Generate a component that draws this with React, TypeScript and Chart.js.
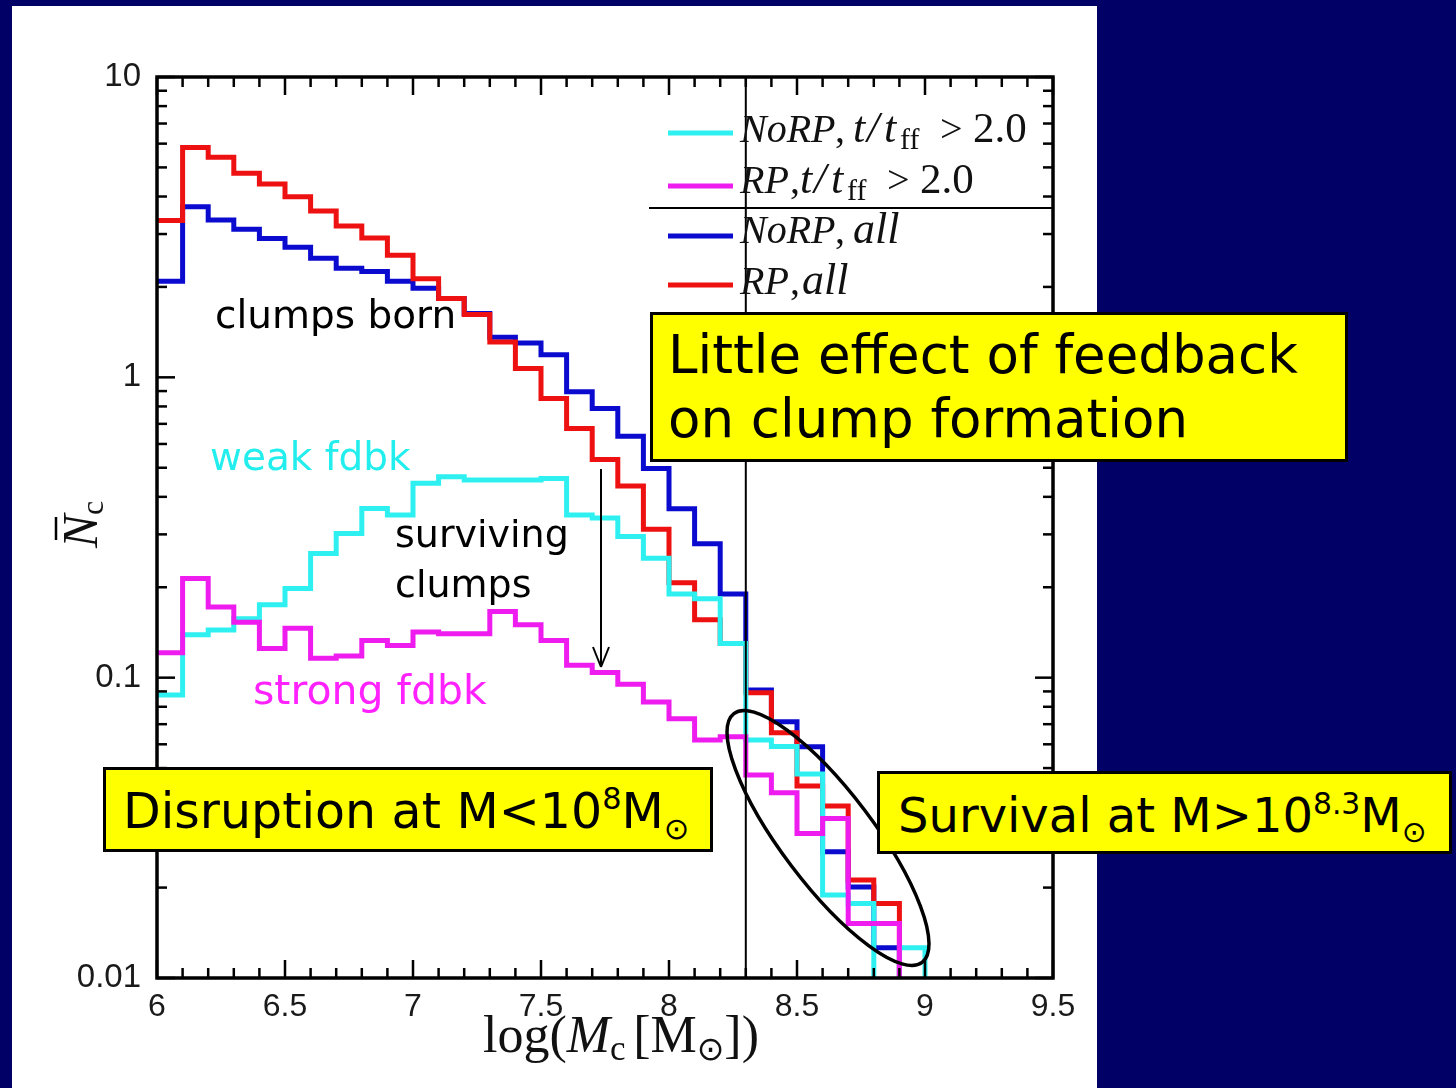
import React, { useEffect, useRef } from 'react';
import { Chart, registerables } from 'chart.js';

Chart.register(...registerables);

// ---------- data ----------
const binStarts = [6.0, 6.1, 6.2, 6.3, 6.4, 6.5, 6.6, 6.7, 6.8, 6.9, 7.0, 7.1, 7.2, 7.3, 7.4, 7.5, 7.6, 7.7, 7.8, 7.9, 8.0, 8.1, 8.2, 8.3, 8.4, 8.5, 8.6, 8.7, 8.8, 8.9, 9.0];

const noRPLate = [0.0875, 0.139, 0.144, 0.157, 0.175, 0.198, 0.259, 0.302, 0.366, 0.348, 0.444, 0.467, 0.455, 0.455, 0.455, 0.46, 0.348, 0.34, 0.295, 0.25, 0.19, 0.183, 0.13, 0.062, 0.059, 0.0478, 0.0189, 0.0177, 0, 0.0126, 0];
const rpLate = [0.121, 0.214, 0.172, 0.153, 0.125, 0.146, 0.116, 0.118, 0.133, 0.128, 0.142, 0.14, 0.14, 0.166, 0.15, 0.133, 0.11, 0.104, 0.095, 0.083, 0.073, 0.062, 0.0636, 0.0474, 0.0414, 0.0303, 0.034, 0.0152, 0.0152, 0, 0];
const noRPAll = [2.09, 3.7, 3.34, 3.11, 2.9, 2.71, 2.49, 2.31, 2.25, 2.09, 1.98, 1.83, 1.63, 1.36, 1.3, 1.19, 0.895, 0.788, 0.637, 0.497, 0.365, 0.279, 0.19, 0.091, 0.0713, 0.0589, 0.0263, 0.0201, 0.0126, 0, 0];
const rpAll = [3.33, 5.83, 5.4, 4.78, 4.4, 3.99, 3.58, 3.19, 2.91, 2.55, 2.13, 1.83, 1.62, 1.31, 1.07, 0.85, 0.676, 0.533, 0.435, 0.312, 0.207, 0.156, 0.13, 0.089, 0.0656, 0.0436, 0.0374, 0.0212, 0.0177, 0, 0];

const xTickLabels = ['6', '6.5', '7', '7.5', '8', '8.5', '9', '9.5'];
const yTickLabels = ['0.01', '0.1', '1', '10'];
const thresholdMass = 8.3;

const seriesNames = ['NoRP, t/tff > 2.0', 'RP, t/tff > 2.0', 'NoRP, all', 'RP, all'];
const seriesColors = ['#2ef0f0', '#ee1cee', '#0b0bd0', '#ee1111'];

const CANVAS_LEFT = 12;
const CANVAS_TOP = 6;
const EMPTY_BIN_FLOOR = 0.0005; // empty bins are drawn below the axis floor (log scale cannot show 0)

type Part = [string, number, string, number];

const legendRows: Part[][] = [
  [['NoRP', 0, 'italic 40px "Liberation Serif"', 0], [',', 95, '40px "Liberation Serif"', 0], ['t', 113, 'italic 44px "Liberation Serif"', 0], ['/', 127, 'italic 44px "Liberation Serif"', 0], ['t', 144, 'italic 44px "Liberation Serif"', 0], ['ff', 160, '30px "Liberation Serif"', 7], ['>', 200, '40px "Liberation Serif"', 0], ['2.0', 233, '43px "Liberation Serif"', 0]],
  [['RP', 0, 'italic 40px "Liberation Serif"', 0], [',', 50, '40px "Liberation Serif"', 0], ['t', 60, 'italic 44px "Liberation Serif"', 0], ['/', 74, 'italic 44px "Liberation Serif"', 0], ['t', 91, 'italic 44px "Liberation Serif"', 0], ['ff', 107, '30px "Liberation Serif"', 7], ['>', 147, '40px "Liberation Serif"', 0], ['2.0', 180, '43px "Liberation Serif"', 0]],
  [['NoRP', 0, 'italic 40px "Liberation Serif"', 0], [',', 95, '40px "Liberation Serif"', 0], ['all', 113, 'italic 44px "Liberation Serif"', 0]],
  [['RP', 0, 'italic 40px "Liberation Serif"', 0], [',', 50, '40px "Liberation Serif"', 0], ['all', 62, 'italic 44px "Liberation Serif"', 0]],
];

function line(ctx: CanvasRenderingContext2D, x1: number, y1: number, x2: number, y2: number) {
  ctx.beginPath();
  ctx.moveTo(x1, y1);
  ctx.lineTo(x2, y2);
  ctx.stroke();
}

const framePlugin = {
  id: 'frameAndDecor',
  afterDatasetsDraw(chart: any) {
    const { ctx, chartArea: a, scales } = chart;
    const xs = scales.x;
    const ys = scales.y;
    ctx.save();
    ctx.strokeStyle = '#000';
    ctx.fillStyle = '#000';
    ctx.lineCap = 'butt';

    // vertical threshold line
    ctx.lineWidth = 2;
    const xv = xs.getPixelForValue(thresholdMass);
    line(ctx, xv, a.top, xv, a.bottom);

    // frame
    ctx.lineWidth = 3.5;
    ctx.strokeRect(a.left, a.top, a.right - a.left, a.bottom - a.top);

    // x ticks (inward, top and bottom)
    ctx.lineWidth = 2.5;
    for (let k = 0; k <= 35; k++) {
      const v = 6 + k * 0.1;
      const len = k % 5 === 0 ? 18 : 10;
      const px = xs.getPixelForValue(v);
      line(ctx, px, a.bottom, px, a.bottom - len);
      line(ctx, px, a.top, px, a.top + len);
    }
    // y ticks (inward, left and right)
    const decades = [0.01, 0.1, 1];
    for (const d of decades) {
      for (let m = 1; m <= 9; m++) {
        const py = ys.getPixelForValue(d * m);
        const len = m === 1 ? 18 : 10;
        line(ctx, a.left, py, a.left + len, py);
        line(ctx, a.right, py, a.right - len, py);
      }
    }
    const pyTop = ys.getPixelForValue(10);
    line(ctx, a.left, pyTop, a.left + 18, pyTop);
    line(ctx, a.right, pyTop, a.right - 18, pyTop);

    // legend divider
    ctx.lineWidth = 2;
    line(ctx, 649 - CANVAS_LEFT, 208 - CANVAS_TOP, a.right, 208 - CANVAS_TOP);

    // legend entries
    const lineYs = [133, 186, 236, 285];
    const baseYs = [142, 193, 243, 294];
    for (let i = 0; i < 4; i++) {
      ctx.strokeStyle = seriesColors[i];
      ctx.lineWidth = 5;
      line(ctx, 668 - CANVAS_LEFT, lineYs[i] - CANVAS_TOP, 733 - CANVAS_LEFT, lineYs[i] - CANVAS_TOP);
      ctx.fillStyle = '#111';
      ctx.textAlign = 'left';
      ctx.textBaseline = 'alphabetic';
      for (const [t, dx, font, dy] of legendRows[i]) {
        ctx.font = font;
        ctx.fillText(t, 740 - CANVAS_LEFT + dx, baseYs[i] - CANVAS_TOP + dy);
      }
    }

    // arrow
    ctx.strokeStyle = '#000';
    ctx.lineWidth = 2;
    const ax = 601 - CANVAS_LEFT;
    line(ctx, ax, 469 - CANVAS_TOP, ax, 667 - CANVAS_TOP);
    line(ctx, ax, 667 - CANVAS_TOP, ax - 8, 647 - CANVAS_TOP);
    line(ctx, ax, 667 - CANVAS_TOP, ax + 8, 647 - CANVAS_TOP);

    // ellipse
    ctx.lineWidth = 3.5;
    ctx.beginPath();
    ctx.ellipse(828 - CANVAS_LEFT, 838 - CANVAS_TOP, 156, 46, (52.9 * Math.PI) / 180, 0, Math.PI * 2);
    ctx.stroke();

    // x axis title: log(M_c [M_sun])
    ctx.fillStyle = '#111';
    const parts: Part[] = [
      ['log(', 0, '52px "Liberation Serif"', 0],
      ['M', 0, 'italic 52px "Liberation Serif"', 0],
      ['c', 0, '35px "Liberation Serif"', 8],
      [' ', 0, '30px "Liberation Serif"', 0],
      ['[M', 0, '52px "Liberation Serif"', 0],
      ['\u2299', 0, '33px "DejaVu Sans"', 8],
      ['])', 0, '52px "Liberation Serif"', 0],
    ];
    let total = 0;
    const widths: number[] = [];
    for (const [t, , font] of parts) {
      ctx.font = font;
      const w = ctx.measureText(t).width;
      widths.push(w);
      total += w;
    }
    let cx = 621 - CANVAS_LEFT - total / 2;
    const base = 1052 - CANVAS_TOP;
    parts.forEach(([t, , font, dy], i) => {
      ctx.font = font;
      ctx.fillText(t, cx, base + dy);
      cx += widths[i];
    });

    // y axis title: N-bar_c (rotated)
    ctx.save();
    ctx.translate(97 - CANVAS_LEFT, 548 - CANVAS_TOP);
    ctx.rotate(-Math.PI / 2);
    ctx.font = 'italic 50px "Liberation Serif"';
    ctx.fillText('N', 0, 0);
    ctx.lineWidth = 2.5;
    line(ctx, 8, -41, 31, -41);
    ctx.font = '32px "Liberation Serif"';
    ctx.fillText('c', 33, 6);
    ctx.restore();

    ctx.restore();
  },
};

function Label(props: { x: number; base: number; size: number; color?: string; children: React.ReactNode }) {
  const { x, base, size, color, children } = props;
  return (
    <div
      style={{
        position: 'absolute',
        left: x,
        top: base - 0.846 * size,
        fontFamily: '"DejaVu Sans"',
        fontSize: size,
        lineHeight: `${size}px`,
        color: color || '#000',
        whiteSpace: 'nowrap',
      }}
    >
      {children}
    </div>
  );
}

const supStyle: React.CSSProperties = { fontSize: '0.62em', verticalAlign: '0.62em', lineHeight: 0 };
const subStyle: React.CSSProperties = { fontSize: '0.62em', verticalAlign: '-0.35em', lineHeight: 0 };

function YellowBox(props: { left: number; top: number; width: number; height: number }) {
  const { left, top, width, height } = props;
  return (
    <div
      style={{
        position: 'absolute',
        left,
        top,
        width,
        height,
        boxSizing: 'border-box',
        background: '#ffff00',
        border: '3px solid #000',
      }}
    />
  );
}

export default function App() {
  const ref = useRef<HTMLCanvasElement>(null);

  useEffect(() => {
    const mk = (vals: number[]) => binStarts.map((x, i) => ({ x, y: vals[i] > 0 ? vals[i] : EMPTY_BIN_FLOOR }));
    const seriesValues = [noRPLate, rpLate, noRPAll, rpAll];
    const orders = [2, 1, 4, 3];
    const chart = new Chart(ref.current as HTMLCanvasElement, {
      type: 'line',
      data: {
        datasets: seriesValues.map((vals, i) => ({
          label: seriesNames[i],
          data: mk(vals),
          borderColor: seriesColors[i],
          backgroundColor: seriesColors[i],
          borderWidth: 5,
          pointRadius: 0,
          stepped: 'before' as const,
          fill: false,
          order: orders[i],
          borderJoinStyle: 'miter' as const,
        })),
      },
      options: {
        animation: false,
        responsive: false,
        devicePixelRatio: 1,
        layout: { padding: { left: 0, right: 44, top: 71, bottom: 0 } },
        plugins: {
          legend: { display: false },
          tooltip: { enabled: false },
          title: { display: false },
        },
        scales: {
          x: {
            type: 'linear',
            min: 6,
            max: 9.5,
            grid: { display: false },
            border: { display: false },
            ticks: {
              stepSize: 0.5,
              autoSkip: false,
              maxRotation: 0,
              padding: 2,
              color: '#1a1a1a',
              font: { family: '"Liberation Sans"', size: 32 },
              callback: (_v: any, idx: number) => xTickLabels[idx] ?? '',
            },
            afterFit: (s: any) => {
              s.height = 110;
            },
          },
          y: {
            type: 'logarithmic',
            min: 0.01,
            max: 10,
            grid: { display: false },
            border: { display: false },
            ticks: {
              autoSkip: false,
              padding: 8,
              color: '#1a1a1a',
              font: { family: '"Liberation Sans"', size: 33 },
              callback: (v: any) => {
                const val = Number(v);
                const m = yTickLabels.find((l) => Math.abs(Math.log10(parseFloat(l)) - Math.log10(val)) < 1e-6);
                return m ?? '';
              },
            },
            afterFit: (s: any) => {
              s.width = 145;
            },
          },
        },
      },
      plugins: [framePlugin],
    } as any);
    return () => chart.destroy();
  }, []);

  return (
    <div style={{ position: 'fixed', left: 0, top: 0, width: 1456, height: 1088, background: '#000066', overflow: 'hidden' }}>
      <div style={{ position: 'absolute', left: CANVAS_LEFT, top: CANVAS_TOP, width: 1085, height: 1082, background: '#fff' }}>
        <canvas ref={ref} width={1085} height={1082} style={{ display: 'block' }} />
      </div>

      <Label x={215} base={328} size={39}>clumps born</Label>
      <Label x={210} base={470} size={39} color="#22eeee">weak fdbk</Label>
      <Label x={395} base={547} size={38}>surviving</Label>
      <Label x={395} base={597} size={38}>clumps</Label>
      <Label x={253} base={705} size={41} color="#ff22ff">strong fdbk</Label>

      <YellowBox left={650} top={312} width={698} height={150} />
      <Label x={668} base={373} size={53}>Little effect of feedback</Label>
      <Label x={668} base={437} size={53}>on clump formation</Label>

      <YellowBox left={103} top={767} width={610} height={85} />
      <Label x={123} base={828} size={49}>
        Disruption at M&lt;10<span style={supStyle}>8</span>M<span style={subStyle}>⊙</span>
      </Label>

      <YellowBox left={877} top={771} width={575} height={83} />
      <Label x={898} base={832} size={48}>
        Survival at M&gt;10<span style={supStyle}>8.3</span>M<span style={subStyle}>⊙</span>
      </Label>
    </div>
  );
}
